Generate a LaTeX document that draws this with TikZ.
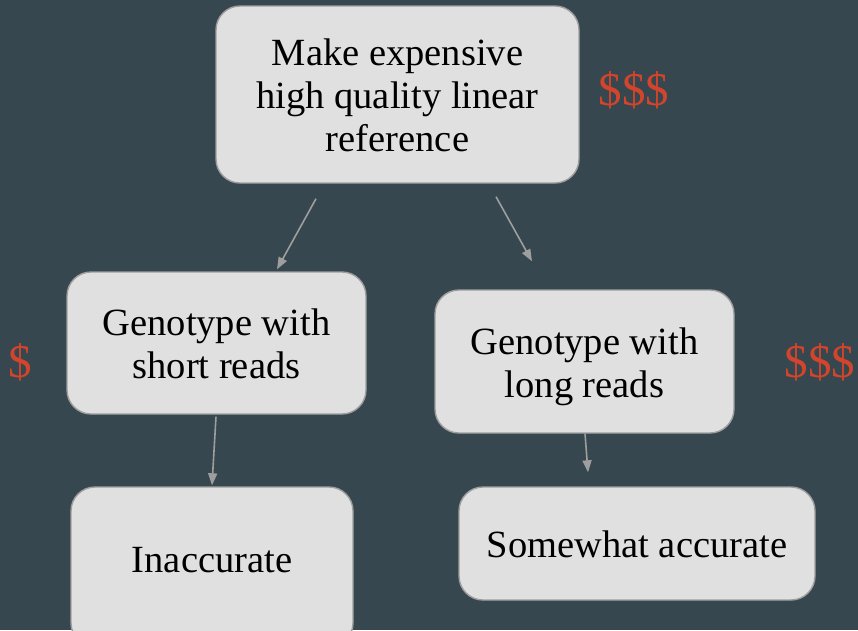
\documentclass[tikz,border=0pt]{standalone}
\usepackage{fontspec}
\setmainfont{Liberation Serif}
\usetikzlibrary{arrows.meta}
\definecolor{bgslate}{HTML}{37474F}
\definecolor{boxfill}{HTML}{E0E0E0}
\definecolor{boxline}{HTML}{9E9E9E}
\definecolor{costred}{HTML}{D2442B}
% fixed first-line height and last-line depth, so every box sets its text alike
\newcommand\tstrut{\rule{0pt}{38pt}}
\newcommand\bstrut{\rule[-10pt]{0pt}{10pt}}
\tikzset{
  stepbox/.style={draw=boxline, line width=1.4pt, fill=boxfill, rounded corners=24pt,
    align=center, font=\fontsize{38.5}{43}\selectfont, text=black, inner sep=0pt},
  cost/.style={text=costred, font=\fontsize{47}{50}\selectfont, inner sep=0pt},
  link/.style={draw=boxline, line width=1.6pt, -{Triangle[length=12pt,width=9pt]}}
}
\begin{document}
\begin{tikzpicture}[x=1pt,y=1pt]
  \fill[bgslate] (0,0) rectangle (858,-630);
  \useasboundingbox (0,0) rectangle (858,-630);

  \node[stepbox, minimum width=363pt, minimum height=177pt] (top) at (397.5,-94.5)
    {\tstrut Make expensive\\high quality linear\\reference\bstrut};
  \node[stepbox, minimum width=299pt, minimum height=142pt] (short) at (216.5,-343)
    {\tstrut Genotype with\\short reads\bstrut};
  \node[stepbox, minimum width=299pt, minimum height=143pt] (long) at (584.5,-361.5)
    {\tstrut Genotype with\\long reads\bstrut};
  % runs past the lower edge of the page; the deeper strut lifts the text
  \node[stepbox, minimum width=282pt, minimum height=160pt] (inacc) at (212,-567)
    {\tstrut Inaccurate\rule[-27pt]{0pt}{27pt}};
  \node[stepbox, minimum width=356pt, minimum height=113pt] (some) at (637,-543.5)
    {\tstrut Somewhat accurate\bstrut};

  \node[cost] (ctop) at (634,-90) {\$\$\$};
  \node[cost] (cshort) at (20,-362) {\$};
  \node[cost] (clong) at (820,-362) {\$\$\$};

  \draw[link] ([xshift=-81.5pt,yshift=-15pt]top.south) -- ([xshift=60.5pt,yshift=2pt]short.north);
  \draw[link] ([xshift=98.5pt,yshift=-13pt]top.south) -- ([xshift=-52.5pt,yshift=28pt]long.north);
  \draw[link] ([xshift=-0.5pt,yshift=-2pt]short.south) -- ([yshift=1pt]inacc.north);
  \draw[link] ([xshift=0.5pt]long.south) -- ([xshift=-49pt,yshift=14pt]some.north);
\end{tikzpicture}
\end{document}
